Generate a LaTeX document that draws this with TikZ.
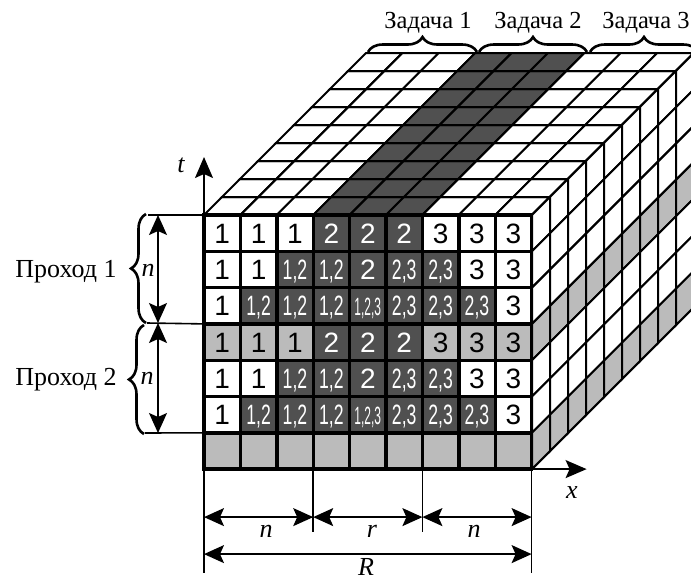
\documentclass[tikz,border=0pt]{standalone}
\usepackage{fontspec}
\usepackage{graphicx}
\setmainfont{Liberation Serif}
\newfontfamily\cellfont{Liberation Sans}
\usetikzlibrary{arrows.meta,decorations.pathreplacing,calc}
\definecolor{ink}{HTML}{000000}
\definecolor{lightcell}{HTML}{BBBBBB}
\definecolor{darkcell}{HTML}{505050}
\newcommand{\CellW}{36.4}
\newcommand{\CellH}{36.3}
\newcommand{\Depth}{18}
\newcommand{\NarA}[1]{\scalebox{.63}[1]{#1}}
\newcommand{\NarB}[1]{{\fontsize{25}{25}\selectfont\scalebox{.48}[1]{#1}}}

\begin{document}
\begin{tikzpicture}[
    x=1pt, y=-1pt, ink,
    font=\fontsize{24.5}{26}\selectfont,
    cellbase/.style={draw=ink, line width=3.4pt, outer sep=0pt, minimum width=\CellW pt, minimum height=\CellH pt, inner sep=0pt, text height=20pt, text depth=0pt, font=\cellfont\fontsize{28}{28}\selectfont},
    cellw/.style={cellbase, fill=white},
    cellg/.style={cellbase, fill=lightcell},
    celld/.style={cellbase, fill=darkcell, text=white},
    facew/.style={draw=ink, line width=2pt, fill=white},
    faceg/.style={draw=ink, line width=2pt, fill=lightcell},
    faced/.style={draw=ink, line width=2pt, fill=darkcell},
    dim/.style={{Stealth[length=20pt,width=18pt,inset=4pt]}-{Stealth[length=20pt,width=18pt,inset=4pt]}, line width=1.4pt, draw=ink},
    axis/.style={-{Stealth[length=21pt,width=18pt,inset=4pt]}, line width=1.6pt, draw=ink},
    guide/.style={line width=1.6pt, draw=ink},
    bracket/.style={decorate, decoration={brace, amplitude=15pt}, line width=2.6pt, draw=ink},
    math/.style={font=\fontsize{26}{26}\selectfont\itshape},
    passlabel/.style={font=\fontsize{26}{28}\selectfont},
  ]
\clip (0,0) rectangle (691,581);

% --- Top face: nine columns, nine cells deep --------------------------------
\foreach \c in {0,...,8} {
  \foreach \d in {0,...,8} {
    \pgfmathsetmacro{\xa}{204+\c*\CellW+\d*\Depth}
    \pgfmathsetmacro{\ya}{215-\d*\Depth}
    \pgfmathsetmacro{\kind}{ifthenelse(\c>2 && \c<6,"faced","facew")}
    \draw[\kind] (\xa,\ya) -- ++(\CellW,0) -- ++(\Depth,-\Depth) -- ++(-\CellW,0) -- cycle;
  }
}

% --- Side face: rows 4 and 7 are grey ---------------------------------------
\foreach \r in {0,...,6} {
  \foreach \d in {0,...,8} {
    \pgfmathsetmacro{\xa}{532+\d*\Depth}
    \pgfmathsetmacro{\ya}{215+\r*\CellH-\d*\Depth}
    \pgfmathsetmacro{\kind}{ifthenelse(\r==3 || \r==6,"faceg","facew")}
    \draw[\kind] (\xa,\ya) -- ++(\Depth,-\Depth) -- ++(0,\CellH) -- ++(-\Depth,\Depth) -- cycle;
  }
}

% --- Front face --------------------------------------------------------------
\foreach \row [count=\r] in {
    {w/1,w/1,w/1,d/2,d/2,d/2,w/3,w/3,w/3},
    {w/1,w/1,d/{\NarA{1,2}},d/{\NarA{1,2}},d/2,d/{\NarA{2,3}},d/{\NarA{2,3}},w/3,w/3},
    {w/1,d/{\NarA{1,2}},d/{\NarA{1,2}},d/{\NarA{1,2}},d/{\NarB{1,2,3}},d/{\NarA{2,3}},d/{\NarA{2,3}},d/{\NarA{2,3}},w/3},
    {g/1,g/1,g/1,d/2,d/2,d/2,g/3,g/3,g/3},
    {w/1,w/1,d/{\NarA{1,2}},d/{\NarA{1,2}},d/2,d/{\NarA{2,3}},d/{\NarA{2,3}},w/3,w/3},
    {w/1,d/{\NarA{1,2}},d/{\NarA{1,2}},d/{\NarA{1,2}},d/{\NarB{1,2,3}},d/{\NarA{2,3}},d/{\NarA{2,3}},d/{\NarA{2,3}},w/3},
    {g/{},g/{},g/{},g/{},g/{},g/{},g/{},g/{},g/{}}} {
  \foreach \kind/\txt [count=\c] in \row {
    \node[cell\kind] (c\r-\c) at ({204+(\c-.5)*\CellW}, {215+(\r-.5)*\CellH}) {\txt};
  }
}

% --- Axes ---------------------------------------------------------------------
\draw[axis] (c1-1.north west) -- ++(0,-58) coordinate (tEnd);
\node[math] (tLabel) at (181,165) {t};
\draw[axis] (c7-9.south east) -- ++(55,0) coordinate (xEnd);
\node[math] (xLabel) at (572,493) {x};

% --- Tasks over the back edge -------------------------------------------------
\foreach \i/\xa/\xb in {1/368/477, 2/479/587, 3/590/698} {
  \coordinate (ba\i) at (\xa,52);
  \coordinate (bb\i) at (\xb,52);
  \draw[bracket] (ba\i) -- (bb\i);
}
\node (task1) at (428,23) {Задача 1};
\node (task2) at (538,23) {Задача 2};
\node (task3) at (646,23) {Задача 3};

% --- Passes on the left -------------------------------------------------------
\coordinate (g1) at (148,215);
\coordinate (g2) at (147,323);
\coordinate (g3) at (145,433);
\draw[guide] (g1) -- (c1-1.north west);
\draw[guide] (g2) -- (c4-1.north west);
\draw[guide] (g3) -- (c7-1.north west);
\draw[dim] (158,215) coordinate (d1) -- (158,323) coordinate (d2);
\draw[dim] (d2) -- (158,433) coordinate (d3);
\coordinate (la1) at (146,323);
\coordinate (lb1) at (146,214);
\coordinate (la2) at (144,434);
\coordinate (lb2) at (144,325);
\draw[bracket] (la1) -- (lb1);
\draw[bracket] (la2) -- (lb2);
\node[passlabel] (pass1) at (66,272) {Проход 1};
\node[passlabel] (pass2) at (66,380) {Проход 2};
\node[math] (n1) at (148,270) {n};
\node[math] (n2) at (147,378) {n};

% --- Dimensions below ---------------------------------------------------------
\draw[guide] (c7-1.south west) -- ++(0,104) coordinate (e1);
\draw[guide] (c7-4.south west) -- ++(0,63) coordinate (e2);
\draw[guide] (c7-7.south west) -- ++(0,63) coordinate (e3);
\draw[guide] (c7-9.south east) -- ++(0,104) coordinate (e4);
\draw[dim] ($(c7-1.south west)+(0,48)$) -- ($(c7-4.south west)+(0,48)$);
\draw[dim] ($(c7-4.south west)+(0,48)$) -- ($(c7-7.south west)+(0,48)$);
\draw[dim] ($(c7-7.south west)+(0,48)$) -- ($(c7-9.south east)+(0,48)$);
\draw[dim] ($(c7-1.south west)+(0,85)$) -- ($(c7-9.south east)+(0,85)$);
\node[math] (nA) at (266,531) {n};
\node[math] (rB) at (372,531) {r};
\node[math] (nC) at (474,531) {n};
\node[math] (bigR) at (366,567) {R};
\end{tikzpicture}
\end{document}
